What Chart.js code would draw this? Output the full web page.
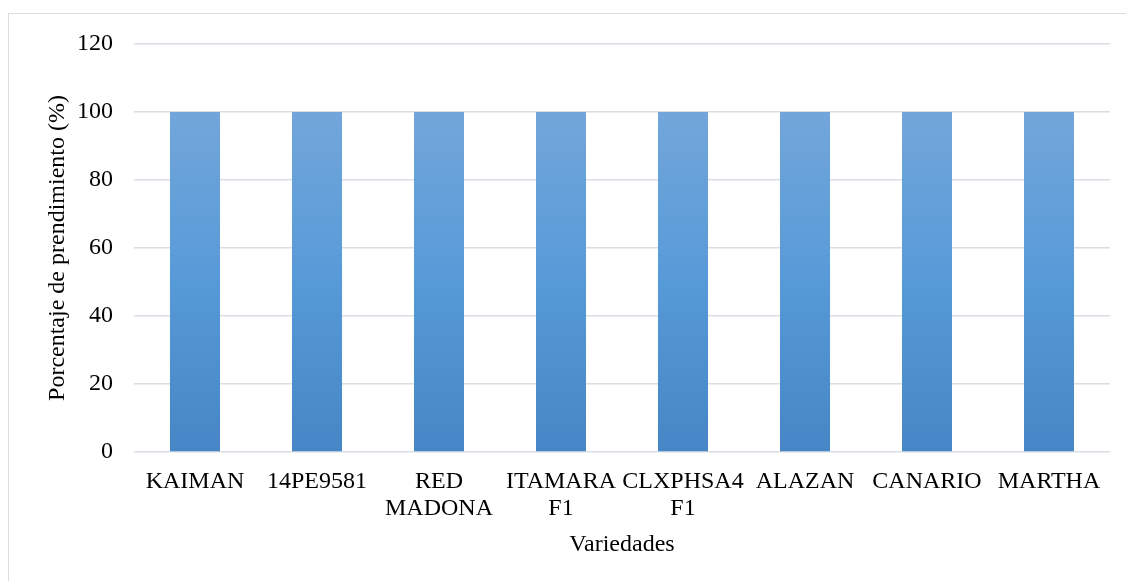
<!DOCTYPE html>
<html>
<head>
<meta charset="utf-8">
<style>
  html, body { margin: 0; padding: 0; background: #ffffff; overflow: hidden; }
  #wrap { position: relative; width: 1126px; height: 581px; }
  #frame { position: absolute; left: 8px; top: 13px; width: 1140px; height: 600px; border: 1px solid #dadee4; box-sizing: border-box; }
  canvas { position: absolute; left: 0; top: 0; }
</style>
<script src="https://cdn.jsdelivr.net/npm/chart.js@4.4.1/dist/chart.umd.min.js"></script>
</head>
<body>
<div id="wrap">
  <div id="frame"></div>
  <canvas id="chart" width="1126" height="581"></canvas>
</div>
<script>
// Varieties and their graft-take percentage
const categories = [
  'KAIMAN', '14PE9581', ['RED', 'MADONA'], ['ITAMARA', 'F1'],
  ['CLXPHSA4', 'F1'], 'ALAZAN', 'CANARIO', 'MARTHA'
];
const prendimiento = [100, 100, 100, 100, 100, 100, 100, 100];
const yTicks = [0, 20, 40, 60, 80, 100, 120];

const serif = "'Liberation Serif', 'Times New Roman', serif";

// Vertical blue gradient spanning each bar from its base to its top
function barGradient(context) {
  const chart = context.chart;
  const { ctx, chartArea, scales } = chart;
  if (!chartArea) return '#5b9bd5';
  const base = scales.y.getPixelForValue(0);
  const top = scales.y.getPixelForValue(context.raw ?? 100);
  const g = ctx.createLinearGradient(0, base, 0, top);
  g.addColorStop(0, '#4686c6');
  g.addColorStop(0.5, '#579ad8');
  g.addColorStop(1, '#72a6da');
  return g;
}

new Chart(document.getElementById('chart'), {
  type: 'bar',
  data: {
    labels: categories,
    datasets: [{
      label: 'Porcentaje de prendimiento (%)',
      data: prendimiento,
      backgroundColor: barGradient,
      borderWidth: 0,
      barPercentage: 0.41,
      categoryPercentage: 1.0
    }]
  },
  options: {
    responsive: false,
    animation: false,
    devicePixelRatio: 1,
    layout: { padding: { top: 44, right: 16, bottom: 0, left: 0 } },
    plugins: {
      legend: { display: false },
      tooltip: { enabled: false }
    },
    scales: {
      x: {
        grid: { display: false, drawTicks: false },
        border: { display: false },
        ticks: {
          color: '#000000',
          autoSkip: false,
          maxRotation: 0,
          minRotation: 0,
          padding: 16,
          font: { family: serif, size: 24, lineHeight: 1.125 }
        },
        title: {
          display: true,
          text: 'Variedades',
          color: '#000000',
          font: { family: serif, size: 24, lineHeight: 1.2 },
          padding: { top: 0, bottom: 22 }
        },
        afterFit(scale) { scale.height = 129; }
      },
      y: {
        min: 0,
        max: 120,
        afterBuildTicks(scale) { scale.ticks = yTicks.map(v => ({ value: v })); },
        grid: { color: '#dadee4', lineWidth: 1.5, drawTicks: false },
        border: { display: false },
        ticks: {
          color: '#000000',
          padding: 21,
          font: { family: serif, size: 24 }
        },
        title: {
          display: true,
          text: 'Porcentaje de prendimiento (%)',
          color: '#000000',
          font: { family: serif, size: 24, lineHeight: 1.2 },
          padding: { top: 43, bottom: 0 }
        },
        afterFit(scale) { scale.width = 134; }
      }
    }
  }
});
</script>
</body>
</html>
